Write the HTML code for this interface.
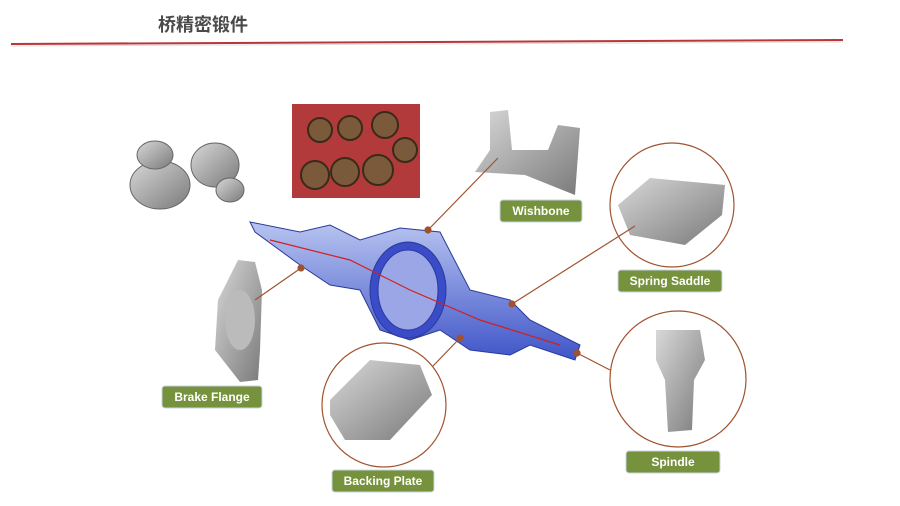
<!DOCTYPE html>
<html><head><meta charset="utf-8"><style>
html,body{margin:0;padding:0;background:#fff;width:900px;height:506px;overflow:hidden}
svg{display:block}
.lb{font-family:"Liberation Sans",sans-serif;font-weight:bold;font-size:12px;fill:#fff;text-anchor:middle}
</style></head><body>
<svg width="900" height="506" viewBox="0 0 900 506">
<defs>
<linearGradient id="g" x1="0" y1="0" x2="1" y2="1"><stop offset="0" stop-color="#d8d8d8"/><stop offset="1" stop-color="#7a7a7a"/></linearGradient>
<linearGradient id="b" x1="0" y1="0" x2="0" y2="1"><stop offset="0" stop-color="#b8c4f0"/><stop offset="1" stop-color="#3f55c8"/></linearGradient>
</defs>
<text x="158" y="31" font-family="'Liberation Sans','Noto Sans CJK SC',sans-serif" font-size="18" font-weight="bold" fill="#4a4a4a">桥精密锻件</text>
<line x1="11" y1="44" x2="843" y2="40" stroke="#b9363a" stroke-width="2"/>
<line x1="11" y1="46" x2="843" y2="42" stroke="#ddd" stroke-width="1"/>
<rect x="292" y="104" width="128" height="94" fill="#b33a3a"/>
<g fill="#7a5a3a" stroke="#3a2a1a" stroke-width="2">
<circle cx="320" cy="130" r="12"/><circle cx="350" cy="128" r="12"/><circle cx="385" cy="125" r="13"/>
<circle cx="315" cy="175" r="14"/><circle cx="345" cy="172" r="14"/><circle cx="378" cy="170" r="15"/><circle cx="405" cy="150" r="12"/>
</g>
<g fill="url(#g)" stroke="#666" stroke-width="1">
<ellipse cx="160" cy="185" rx="30" ry="24"/><ellipse cx="155" cy="155" rx="18" ry="14"/><ellipse cx="215" cy="165" rx="24" ry="22"/><ellipse cx="230" cy="190" rx="14" ry="12"/>
</g>
<g stroke="#2a3a9a" stroke-width="1">
<path d="M250 222 L300 232 L330 225 L360 240 L400 228 L440 232 L470 290 L510 300 L530 320 L580 345 L575 360 L530 345 L510 355 L470 350 L440 330 L410 340 L380 330 L360 290 L330 285 L300 265 L255 232 Z" fill="url(#b)"/>
<ellipse cx="408" cy="290" rx="38" ry="48" fill="#3a4cc8"/>
<ellipse cx="408" cy="290" rx="30" ry="40" fill="#9aa6e6"/>
</g>
<path d="M270 240 L350 260 L410 290 L480 320 L560 345" stroke="#d02020" stroke-width="1.2" fill="none"/>
<path d="M490 112 L508 110 L512 150 L548 150 L558 125 L580 128 L575 195 L525 175 L475 172 L490 150 Z" fill="url(#g)"/>
<path d="M238 260 L255 262 L262 290 L260 350 L258 380 L240 382 L215 350 L218 300 Z" fill="url(#g)"/>
<ellipse cx="240" cy="320" rx="15" ry="30" fill="#bbb"/>
<g fill="#fff" stroke="#a0522d" stroke-width="1.2">
<circle cx="672" cy="205" r="62"/><circle cx="678" cy="379" r="68"/><circle cx="384" cy="405" r="62"/>
</g>
<path d="M618 205 L650 178 L725 185 L722 215 L685 245 L630 235 Z" fill="url(#g)"/>
<path d="M656 330 L700 330 L705 360 L694 380 L692 430 L668 432 L665 380 L656 360 Z" fill="url(#g)"/>
<path d="M330 400 L370 360 L420 365 L432 395 L390 440 L345 440 L330 415 Z" fill="url(#g)"/>
<g stroke="#a0522d" stroke-width="1.2" fill="#a0522d">
<line x1="498" y1="158" x2="428" y2="230"/><circle cx="428" cy="230" r="3"/>
<line x1="635" y1="226" x2="512" y2="304"/><circle cx="512" cy="304" r="3"/>
<line x1="610" y1="370" x2="577" y2="353"/><circle cx="577" cy="353" r="3"/>
<line x1="433" y1="366" x2="460" y2="338"/><circle cx="460" cy="338" r="3"/>
<line x1="255" y1="300" x2="301" y2="268"/><circle cx="301" cy="268" r="3"/>
</g>
<g fill="#76923c" stroke="#c8d4e4" stroke-width="1">
<rect x="500" y="200" width="82" height="22" rx="3"/>
<rect x="618" y="270" width="104" height="22" rx="3"/>
<rect x="626" y="451" width="94" height="22" rx="3"/>
<rect x="332" y="470" width="102" height="22" rx="3"/>
<rect x="162" y="386" width="100" height="22" rx="3"/>
</g>
<text class="lb" x="541" y="215">Wishbone</text>
<text class="lb" x="670" y="285">Spring Saddle</text>
<text class="lb" x="673" y="466">Spindle</text>
<text class="lb" x="383" y="485">Backing Plate</text>
<text class="lb" x="212" y="401">Brake Flange</text>
</svg>
</body></html>
